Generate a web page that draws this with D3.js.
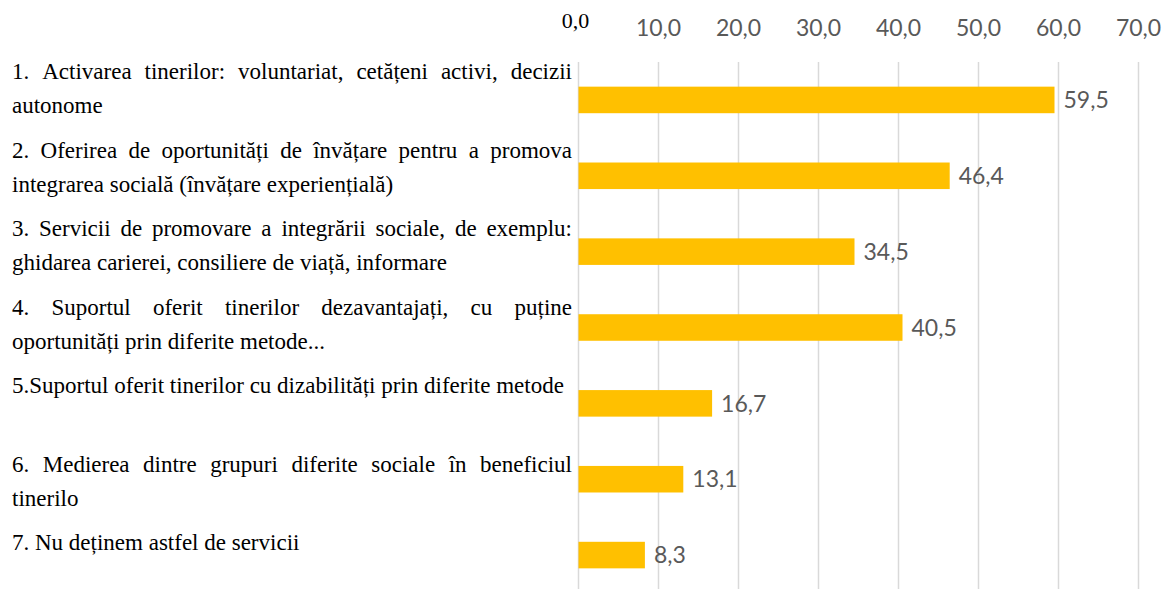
<!DOCTYPE html>
<html><head><meta charset="utf-8">
<script src="https://cdn.jsdelivr.net/npm/d3@7"></script>
<style>body{margin:0;background:#fff;} svg{display:block;}</style>
</head><body>
<svg id="chart" width="1162" height="589"></svg>
<script>
const categories = [
  "1. Activarea tinerilor: voluntariat, cetățeni activi, decizii|autonome",
  "2. Oferirea de oportunități de învățare pentru a promova|integrarea socială (învățare experiențială)",
  "3. Servicii de promovare a integrării sociale, de exemplu:|ghidarea carierei, consiliere de viață, informare",
  "4. Suportul oferit tinerilor dezavantajați, cu puține|oportunități prin diferite metode...",
  "5.Suportul oferit tinerilor cu dizabilități prin diferite metode",
  "6. Medierea dintre grupuri diferite sociale în beneficiul|tinerilo",
  "7. Nu deținem astfel de servicii"
];
const values = [59.5, 46.4, 34.5, 40.5, 16.7, 13.1, 8.3];
const tickValues = [0, 10, 20, 30, 40, 50, 60, 70];
const fmt = v => v.toFixed(1).replace(".", ",");

const serif = "'Liberation Serif', 'Times New Roman', serif";
const sans = "Lato, Carlito, Calibri, sans-serif";

const svg = d3.select("#chart");
const x = d3.scaleLinear().domain([0, 70]).range([578.5, 1138.5]);
const y = d3.scaleBand().domain(d3.range(categories.length)).range([62, 593]).paddingInner(0.65).paddingOuter(0.325);

// gridlines
svg.append("g").selectAll("line").data(tickValues).join("line")
  .attr("x1", d => x(d)).attr("x2", d => x(d))
  .attr("y1", 62).attr("y2", 589)
  .attr("stroke", "#d9d9d9").attr("stroke-width", 1.5);

// tick labels
svg.append("g").selectAll("text").data(tickValues).join("text")
  .attr("x", d => d === 0 ? x(d) - 3 : x(d)).attr("y", d => d === 0 ? 28 : 36)
  .attr("text-anchor", "middle")
  .attr("font-family", d => d === 0 ? serif : sans)
  .attr("font-size", d => d === 0 ? "22px" : "23px")
  .attr("fill", d => d === 0 ? "#000" : "#595959")
  .text(d => fmt(d));

// bars
svg.append("g").selectAll("rect").data(values).join("rect")
  .attr("x", x(0)).attr("y", (d, i) => y(i))
  .attr("width", d => x(d) - x(0)).attr("height", y.bandwidth())
  .attr("fill", "#FFC000");

// value labels
svg.append("g").selectAll("text").data(values).join("text")
  .attr("x", d => x(d) + 9).attr("y", (d, i) => y(i) + y.bandwidth() / 2)
  .attr("dy", "0.36em")
  .attr("font-family", sans)
  .attr("font-size", "23px").attr("fill", "#595959")
  .text(d => fmt(d));

// category labels (justified, serif)
const labelLeft = 12, labelRight = 572;
const labelY = d3.scaleLinear().domain([0, 6]).range([79, 550]);
const lineGap = 34;
const lg = svg.append("g").attr("font-family", serif).attr("font-size", "23px").attr("fill", "#000");
categories.forEach((c, i) => {
  const lines = c.split("|");
  lines.forEach((ln, j) => {
    const yy = labelY(i) + j * lineGap;
    const justify = lines.length > 1 && j < lines.length - 1;
    if (!justify) {
      lg.append("text").attr("x", labelLeft).attr("y", yy).text(ln);
    } else {
      const words = ln.split(" ");
      const nodes = words.map(w => lg.append("text").attr("y", yy).text(w));
      const widths = nodes.map(n => n.node().getComputedTextLength());
      const total = d3.sum(widths);
      const gap = (labelRight - labelLeft - total) / (words.length - 1);
      let cx = labelLeft;
      nodes.forEach((n, k) => { n.attr("x", cx); cx += widths[k] + gap; });
    }
  });
});
</script>
</body></html>
